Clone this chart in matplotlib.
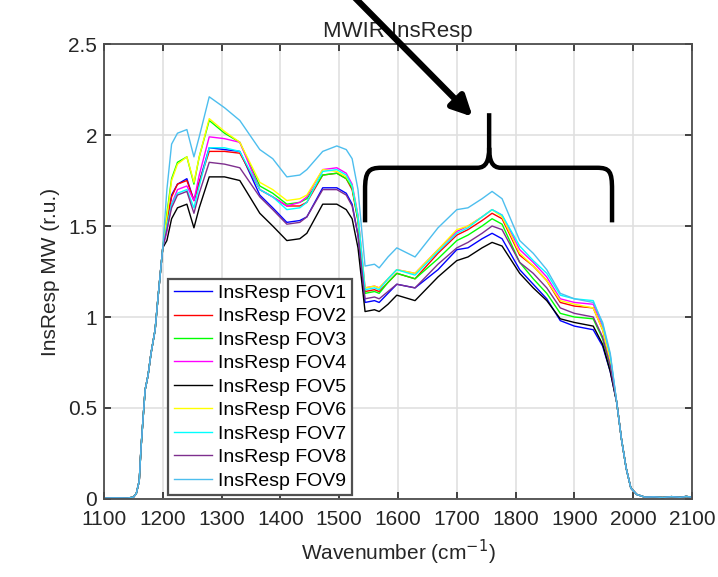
import matplotlib
matplotlib.use("Agg")
import matplotlib.pyplot as plt
from matplotlib.path import Path
from matplotlib.patches import PathPatch

plt.rcParams['font.family'] = ['Liberation Sans', 'DejaVu Sans']

# shared rising edge (all FOVs overlap here)
rise_wn = [1100, 1120, 1140, 1150, 1155, 1160, 1163, 1166, 1170, 1175, 1180, 1187, 1192, 1200]
rise_val = [0.005, 0.006, 0.005, 0.01, 0.03, 0.10, 0.28, 0.42, 0.60, 0.68, 0.80, 0.93, 1.11, 1.38]

# per-FOV plateau section
plat_wn = [1207, 1215, 1225, 1241, 1253, 1262, 1279, 1305, 1331, 1365, 1387, 1411, 1433,
           1445, 1472, 1496, 1512, 1522, 1532, 1544, 1560, 1568, 1583, 1598, 1629, 1668,
           1700, 1719, 1743, 1760, 1777, 1807, 1830, 1853, 1876, 1900, 1932, 1948, 1961]

fov1 = [1.52, 1.67, 1.73, 1.76, 1.64, 1.74, 1.93, 1.92, 1.91, 1.67, 1.60, 1.52, 1.53,
        1.55, 1.71, 1.71, 1.68, 1.62, 1.45, 1.08, 1.09, 1.08, 1.13, 1.18, 1.16, 1.26,
        1.37, 1.38, 1.43, 1.46, 1.43, 1.26, 1.18, 1.10, 0.98, 0.95, 0.93, 0.84, 0.70]
fov2 = [1.52, 1.66, 1.73, 1.75, 1.64, 1.74, 1.91, 1.91, 1.90, 1.70, 1.66, 1.61, 1.61,
        1.63, 1.78, 1.79, 1.76, 1.70, 1.53, 1.14, 1.15, 1.14, 1.19, 1.24, 1.21, 1.35,
        1.45, 1.48, 1.53, 1.57, 1.54, 1.34, 1.28, 1.20, 1.08, 1.06, 1.05, 0.93, 0.76]
fov3 = [1.57, 1.76, 1.85, 1.88, 1.73, 1.88, 2.08, 2.01, 1.96, 1.72, 1.68, 1.62, 1.63,
        1.65, 1.78, 1.79, 1.76, 1.71, 1.53, 1.13, 1.14, 1.13, 1.19, 1.24, 1.21, 1.32,
        1.42, 1.45, 1.50, 1.54, 1.51, 1.30, 1.21, 1.13, 1.02, 1.00, 0.99, 0.88, 0.72]
fov4 = [1.47, 1.62, 1.70, 1.72, 1.64, 1.78, 1.99, 1.98, 1.96, 1.70, 1.66, 1.61, 1.63,
        1.66, 1.81, 1.82, 1.79, 1.73, 1.56, 1.16, 1.17, 1.16, 1.21, 1.26, 1.24, 1.37,
        1.47, 1.50, 1.55, 1.59, 1.56, 1.37, 1.30, 1.22, 1.10, 1.08, 1.07, 0.95, 0.78]
fov5 = [1.42, 1.54, 1.60, 1.62, 1.49, 1.60, 1.77, 1.77, 1.75, 1.57, 1.50, 1.42, 1.43,
        1.46, 1.62, 1.62, 1.59, 1.54, 1.38, 1.03, 1.04, 1.03, 1.07, 1.12, 1.09, 1.22,
        1.31, 1.33, 1.38, 1.41, 1.39, 1.24, 1.16, 1.09, 0.99, 0.97, 0.95, 0.85, 0.70]
fov6 = [1.55, 1.75, 1.84, 1.88, 1.74, 1.88, 2.09, 2.02, 1.96, 1.74, 1.70, 1.64, 1.65,
        1.67, 1.81, 1.80, 1.77, 1.72, 1.55, 1.16, 1.17, 1.16, 1.21, 1.26, 1.24, 1.37,
        1.48, 1.50, 1.55, 1.59, 1.55, 1.35, 1.28, 1.20, 1.09, 1.07, 1.05, 0.93, 0.76]
fov7 = [1.50, 1.62, 1.68, 1.70, 1.60, 1.72, 1.93, 1.93, 1.91, 1.70, 1.66, 1.59, 1.60,
        1.63, 1.80, 1.81, 1.78, 1.72, 1.55, 1.15, 1.16, 1.15, 1.21, 1.26, 1.23, 1.36,
        1.46, 1.49, 1.55, 1.59, 1.56, 1.39, 1.31, 1.24, 1.12, 1.10, 1.09, 0.96, 0.79]
fov8 = [1.48, 1.60, 1.67, 1.69, 1.57, 1.68, 1.85, 1.84, 1.82, 1.66, 1.59, 1.51, 1.52,
        1.55, 1.70, 1.70, 1.67, 1.61, 1.45, 1.10, 1.11, 1.10, 1.14, 1.18, 1.16, 1.29,
        1.38, 1.41, 1.46, 1.50, 1.48, 1.30, 1.24, 1.16, 1.05, 1.02, 1.00, 0.89, 0.73]
fov9 = [1.70, 1.95, 2.01, 2.03, 1.88, 1.99, 2.21, 2.15, 2.08, 1.92, 1.87, 1.77, 1.78,
        1.81, 1.91, 1.94, 1.92, 1.87, 1.70, 1.28, 1.29, 1.27, 1.33, 1.38, 1.33, 1.49,
        1.59, 1.60, 1.65, 1.69, 1.65, 1.42, 1.35, 1.26, 1.13, 1.10, 1.08, 0.97, 0.80]

# shared falling edge and tail
fall_wn = [1972, 1980, 1988, 1996, 2006, 2020, 2035, 2050, 2065, 2080, 2090, 2100]
fall_val = [0.53, 0.33, 0.17, 0.06, 0.025, 0.010, 0.012, 0.008, 0.013, 0.009, 0.014, 0.010]

labels = ['InsResp FOV%d' % i for i in range(1, 10)]
colors = ['#0000ff', '#ff0000', '#00ff00', '#ff00ff', '#000000',
          '#ffff00', '#00ffff', '#7e2f8e', '#4dbeee']
series = [fov1, fov2, fov3, fov4, fov5, fov6, fov7, fov8, fov9]

fig = plt.figure(figsize=(7.18, 5.77), dpi=100)
ax = fig.add_axes([0.1448, 0.1352, 0.819, 0.7885])

wn = rise_wn + plat_wn + fall_wn
for vals, c, lab in zip(series, colors, labels):
    ax.plot(wn, rise_val + vals + fall_val, color=c, lw=1.0, label=lab)

ax.set_xlim(1100, 2100)
ax.set_ylim(0, 2.5)
ax.set_xticks(range(1100, 2101, 100))
ax.set_yticks([0, 0.5, 1, 1.5, 2, 2.5])
ax.set_yticklabels(['0', '0.5', '1', '1.5', '2', '2.5'])
ax.grid(True, color='#e0e0e0', lw=1.2)
ax.set_axisbelow(True)
ax.tick_params(direction='in', top=True, right=True, length=5, width=1.2,
               labelsize=15, colors='#262626')
ax.tick_params(axis='x', pad=8)
ax.tick_params(axis='y', pad=5)
for s in ax.spines.values():
    s.set_color('#4d4d4d')
    s.set_linewidth(1.3)
ax.set_xlabel('Wavenumber (cm$^{-1}$)', fontsize=15, color='#262626', labelpad=6)
ax.set_ylabel('InsResp MW (r.u.)', fontsize=15, color='#262626', labelpad=6)
ax.set_title('MWIR InsResp', fontsize=16, color='#262626', pad=5)

leg = ax.legend(loc='lower left', bbox_to_anchor=(0.109, 0.008), fontsize=14,
                fancybox=False, edgecolor='#505050', framealpha=1,
                handlelength=1.95, handletextpad=0.3, labelspacing=0.3,
                borderpad=0.3, borderaxespad=0)
leg.get_frame().set_linewidth(1.6)

# curly brace over the 1550-1960 band
verts = [(1544, 1.52), (1544, 1.70), (1544, 1.80), (1550, 1.82), (1572, 1.82),
         (1735, 1.82), (1750, 1.82), (1755, 1.86), (1755, 1.93), (1755, 2.12),
         (1755, 1.93), (1755, 1.86), (1760, 1.82), (1775, 1.82),
         (1938, 1.82), (1960, 1.82), (1964, 1.80), (1964, 1.70), (1964, 1.52)]
codes = [Path.MOVETO, Path.LINETO, Path.CURVE4, Path.CURVE4, Path.CURVE4,
         Path.LINETO, Path.CURVE4, Path.CURVE4, Path.CURVE4, Path.LINETO,
         Path.MOVETO, Path.CURVE4, Path.CURVE4, Path.CURVE4,
         Path.LINETO, Path.CURVE4, Path.CURVE4, Path.CURVE4, Path.LINETO]
ax.add_patch(PathPatch(Path(verts, codes), fill=False, lw=3.2, color='black',
                       capstyle='butt', zorder=5))

ax.annotate('', xy=(1727, 2.10), xytext=(1525, 2.76), annotation_clip=False,
            arrowprops=dict(arrowstyle='-|>,head_length=1.2,head_width=0.6',
                            color='black', lw=4.5, shrinkA=0, shrinkB=0),
            zorder=10)

fig.savefig('out.png', dpi=100)
